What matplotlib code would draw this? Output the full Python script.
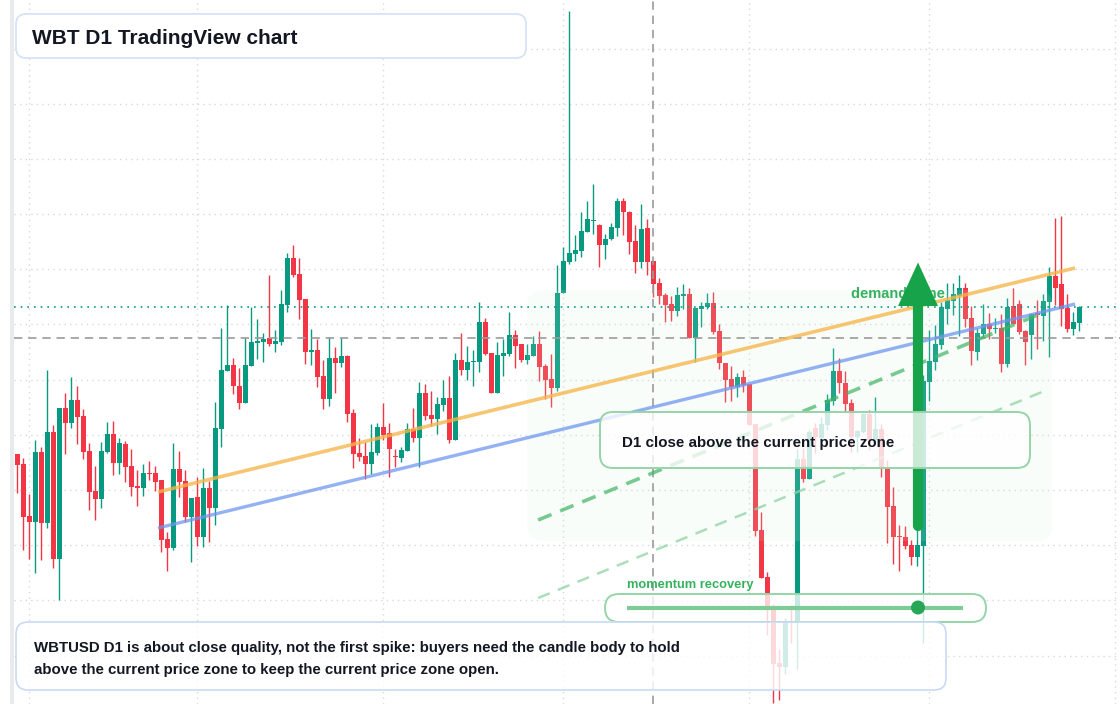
import numpy as np
import matplotlib
matplotlib.use("Agg")
import matplotlib.pyplot as plt
from matplotlib.patches import FancyBboxPatch, Rectangle, Circle, Polygon
from matplotlib.lines import Line2D
from matplotlib.transforms import IdentityTransform

plt.rcParams['font.family'] = ['Liberation Sans', 'DejaVu Sans']

# ---------------- data (daily OHLC, WBTUSD) ----------------
opens = [44.6, 43.6, 38.4, 37.8, 44.8, 37.7, 46.8, 34.1, 49.2, 47.7,
         50.0, 48.4, 44.9, 40.9, 40.1, 44.8, 46.6, 43.7, 45.6, 43.4,
         41.4, 41.2, 42.7, 42.7, 42.0, 36.1, 35.2, 43.1, 41.9, 38.3,
         40.3, 36.3, 41.2, 39.2, 47.1, 52.9, 53.5, 51.4, 49.7, 53.4,
         55.7, 55.8, 56.2, 55.6, 55.8, 59.5, 64.2, 62.6, 60.1, 54.8,
         55.0, 52.4, 50.1, 54.2, 53.7, 54.4, 48.7, 44.7, 44.4, 43.6,
         44.7, 47.3, 46.7, 44.4, 44.2, 44.9, 47.1, 46.2, 50.7, 48.5,
         48.1, 49.5, 50.2, 46.0, 54.0, 53.0, 53.8, 53.8, 57.8, 54.7,
         50.7, 54.4, 54.6, 56.5, 55.6, 54.0, 54.4, 55.6, 53.4, 52.1,
         51.2, 60.7, 63.8, 64.6, 64.9, 66.8, 67.9, 67.5, 65.5, 66.1,
         67.2, 69.9, 68.8, 65.9, 63.8, 67.2, 63.9, 61.7, 60.5, 59.6,
         58.9, 60.4, 60.6, 56.2, 59.1, 59.3, 59.7, 56.9, 53.7, 52.1,
         51.3, 52.3, 51.6, 47.6, 37.0, 32.3, 29.1, 23.7, 23.3, 27.8,
         27.7, 44.1, 42.1, 47.2, 46.2, 47.5, 49.9, 52.9, 51.7, 49.7,
         46.3, 46.8, 48.6, 46.0, 47.1, 43.3, 39.4, 36.4, 36.3, 35.5,
         34.3, 35.4, 51.8, 53.8, 55.5, 59.1, 59.9, 60.4, 61.2, 58.2,
         54.8, 56.6, 57.6, 57.1, 57.2, 53.6, 59.4, 59.6, 56.9, 56.5,
         58.7, 58.4, 59.8, 62.4, 61.6, 59.2, 57.1, 57.7]
highs = [44.6, 44.2, 40.6, 46.0, 45.3, 53.0, 47.5, 49.2, 50.7, 52.3,
         51.4, 49.1, 45.7, 43.4, 45.8, 47.8, 47.9, 46.2, 45.9, 45.1,
         43.0, 43.6, 43.9, 43.4, 42.0, 36.8, 45.7, 44.9, 43.0, 40.2,
         42.3, 43.2, 41.9, 49.8, 57.2, 59.5, 54.2, 53.2, 56.2, 59.3,
         58.1, 56.7, 62.5, 57.0, 61.0, 64.7, 65.5, 64.2, 60.1, 57.1,
         56.1, 54.0, 56.3, 55.3, 56.2, 54.5, 49.1, 46.2, 45.8, 47.6,
         47.7, 49.7, 47.7, 45.1, 45.3, 47.7, 49.2, 51.8, 51.6, 50.9,
         50.3, 52.0, 52.4, 54.7, 56.7, 55.4, 55.0, 59.8, 58.2, 54.7,
         55.8, 56.1, 58.8, 57.0, 55.6, 55.6, 56.4, 56.9, 53.6, 54.6,
         63.5, 65.3, 88.9, 66.5, 68.8, 69.9, 71.6, 67.6, 66.6, 67.7,
         70.2, 70.2, 68.9, 67.5, 69.6, 68.1, 63.9, 62.2, 60.7, 60.4,
         61.3, 61.6, 61.2, 59.2, 59.8, 60.7, 60.8, 57.6, 53.7, 53.4,
         52.7, 53.0, 51.6, 47.6, 38.8, 32.8, 29.6, 25.1, 28.2, 29.5,
         45.1, 45.2, 47.0, 47.7, 48.3, 50.6, 55.2, 54.2, 52.9, 50.1,
         47.0, 48.7, 49.0, 50.3, 47.6, 44.0, 41.3, 37.5, 37.4, 36.0,
         37.2, 52.5, 57.0, 57.5, 59.8, 61.7, 61.7, 62.5, 61.7, 59.4,
         57.2, 59.6, 58.7, 58.2, 58.6, 60.2, 61.2, 60.0, 57.0, 58.7,
         60.0, 60.6, 63.3, 68.2, 68.4, 60.6, 58.8, 59.4]
lows = [40.7, 35.0, 34.1, 32.7, 34.0, 37.2, 33.2, 30.0, 44.6, 47.2,
        45.6, 44.1, 39.0, 38.0, 39.2, 44.7, 42.5, 42.6, 41.8, 40.4,
        39.4, 40.4, 42.0, 40.9, 34.8, 32.9, 35.0, 40.3, 37.8, 33.8,
        35.4, 35.3, 35.8, 37.5, 45.3, 52.9, 50.6, 49.1, 49.7, 53.4,
        54.1, 53.8, 55.4, 54.8, 55.5, 58.8, 62.3, 58.1, 53.6, 53.5,
        51.3, 49.1, 49.4, 50.7, 53.3, 47.8, 43.2, 43.9, 42.1, 42.6,
        44.5, 46.0, 42.3, 43.3, 43.8, 44.9, 45.8, 43.3, 48.0, 47.4,
        46.6, 48.9, 45.7, 46.0, 52.5, 52.0, 51.4, 52.8, 54.5, 50.7,
        50.7, 52.4, 54.4, 53.2, 53.8, 53.6, 54.4, 51.9, 50.1, 49.3,
        50.9, 60.7, 63.6, 63.9, 64.3, 66.8, 66.6, 63.3, 64.1, 66.0,
        66.4, 66.5, 64.6, 62.7, 63.2, 62.5, 60.3, 59.6, 57.8, 57.9,
        58.4, 59.1, 56.2, 53.8, 57.3, 59.1, 56.6, 53.1, 49.8, 49.9,
        50.3, 50.8, 47.5, 36.4, 32.2, 26.5, 19.7, 20.0, 22.6, 25.7,
        23.1, 41.8, 42.1, 44.7, 46.0, 47.0, 49.5, 50.7, 48.8, 44.8,
        44.8, 46.7, 45.0, 46.0, 42.3, 35.7, 33.6, 32.9, 35.1, 33.5,
        33.4, 25.7, 49.9, 53.0, 55.1, 57.6, 58.5, 56.4, 57.3, 53.5,
        54.0, 56.2, 56.1, 56.7, 52.8, 53.3, 57.6, 56.6, 53.5, 54.1,
        55.1, 55.9, 54.3, 59.5, 57.4, 56.8, 56.5, 56.9]
closes = [43.5, 38.3, 37.8, 44.8, 37.7, 46.8, 34.1, 49.2, 47.7, 50.0,
          48.3, 44.8, 40.8, 40.1, 44.9, 46.6, 43.7, 45.7, 43.3, 41.3,
          41.2, 42.7, 42.6, 41.8, 36.0, 35.2, 43.1, 41.8, 38.3, 40.2,
          36.3, 41.2, 39.2, 47.2, 53.0, 53.5, 51.4, 49.7, 53.5, 55.8,
          55.9, 56.1, 55.6, 55.9, 59.6, 64.2, 62.5, 60.0, 54.8, 55.0,
          52.3, 50.1, 54.2, 53.7, 54.4, 48.6, 44.6, 44.3, 43.6, 44.8,
          47.3, 46.5, 45.1, 44.3, 45.0, 47.1, 46.2, 50.7, 48.4, 48.1,
          49.6, 50.2, 46.0, 54.0, 53.0, 53.8, 53.9, 57.8, 54.6, 50.7,
          54.5, 54.7, 56.5, 55.4, 54.0, 54.5, 55.6, 53.3, 52.0, 51.2,
          60.7, 63.9, 64.7, 65.0, 66.9, 68.1, 68.0, 65.5, 66.1, 67.3,
          69.9, 68.8, 65.8, 63.8, 67.1, 63.8, 61.6, 60.4, 59.5, 58.9,
          60.5, 60.6, 56.2, 59.2, 59.4, 59.7, 56.8, 53.7, 52.0, 51.3,
          52.3, 51.5, 47.5, 36.9, 32.2, 29.1, 23.6, 23.3, 27.8, 27.7,
          44.1, 42.1, 46.8, 46.3, 47.6, 50.0, 52.9, 51.7, 49.6, 46.3,
          46.9, 48.6, 46.0, 47.1, 43.3, 39.3, 36.3, 36.3, 35.4, 34.3,
          35.5, 51.9, 53.9, 55.6, 59.3, 60.0, 60.6, 61.2, 58.1, 54.9,
          56.7, 57.6, 57.1, 57.2, 53.6, 59.3, 57.6, 56.8, 55.8, 58.6,
          58.5, 59.9, 62.4, 61.2, 59.1, 57.1, 57.8, 59.3]

# drawing annotations (bar index, price)
orange_line_x = [23.45, 176.3]
orange_line_y = [40.8, 63.2]
blue_line_x = [23.45, 176.3]
blue_line_y = [37.2, 59.6]
green_dash_x = [86.8, 171.3]
green_dash_y = [38.0, 58.8]
light_dash_x = [86.8, 171.6]
light_dash_y = [30.2, 51.0]
zone_x = [84.95, 172.5]
zone_y = [35.9, 61.0]
current_price = 56.2
last_price = 59.3
cursor_bar = 105.95
arrow_bar = 150.12
arrow_from, arrow_to = 37.4, 63.75
grid_bars = [2, 30, 61, 91, 122, 152, 183]

title_text = "WBT D1 TradingView chart"
zone_label = "demand zone"
box_text = "D1 close above the current price zone"
momentum_label = "momentum recovery"
note_lines = ["WBTUSD D1 is about close quality, not the first spike: buyers need the candle body to hold",
              "above the current price zone to keep the current price zone open."]

# ---------------- figure ----------------
W, H = 1120, 704
STEP = 6.0
fig = plt.figure(figsize=(W / 100, H / 100), dpi=100)
ax = fig.add_axes([14 / W, 0, (W - 14) / W, 1])
x0 = -(17.3 - 14) / STEP
ax.set_xlim(x0, x0 + (W - 14) / STEP)
ax.set_ylim(90 - H / 10, 90)
ax.axis('off')

ID = IdentityTransform()

def Y(y):
    return H - y

# left strip
fig.add_artist(Rectangle((10, 0), 4, H, transform=ID, color='#e9eaed', lw=0, zorder=-1))

# grid
grid_kw = dict(color='#d6d9de', lw=1.0, linestyle=(0, (1, 3)), zorder=0.5)
for k in range(13):
    ax.axhline(85.15 - 5.52 * k, **grid_kw)
for b in grid_bars:
    ax.axvline(b, **grid_kw)

# candles
o = np.array(opens); h = np.array(highs); l = np.array(lows); c = np.array(closes)
idx = np.arange(len(o))
up = c >= o
GREEN = '#089981'
RED = '#f23645'
cols = np.where(up, GREEN, RED)
ax.vlines(idx, l, h, colors=cols, lw=1.0, zorder=3)
body_lo = np.minimum(o, c)
body_h = np.maximum(np.abs(c - o), 0.12)
ax.bar(idx, body_h, bottom=body_lo, width=0.76, color=cols, lw=0, zorder=3.1)

# demand zone shading
zx0, zy0 = ax.transData.transform((zone_x[0], zone_y[0]))
zx1, zy1 = ax.transData.transform((zone_x[1], zone_y[1]))
ax.add_patch(FancyBboxPatch((zx0, zy0), zx1 - zx0, zy1 - zy0,
                            boxstyle="round,pad=0,rounding_size=16", transform=ID,
                            fc=(0.82, 0.95, 0.86, 0.13), ec='none', zorder=3.5, clip_on=False))

# reference lines
ax.axhline(last_price, color=GREEN, lw=1.2, linestyle=(0, (1, 3)), zorder=3.6)
ax.axhline(current_price, color='#9b9b9b', lw=1.2, linestyle=(0, (5, 3.5)), zorder=3.6)
ax.axvline(cursor_bar, color='#9b9b9b', lw=1.2, linestyle=(0, (5, 3.5)), zorder=3.6)

# trend lines
ax.plot(orange_line_x, orange_line_y, color='#f6b64b', alpha=0.78, lw=2.6, solid_capstyle='butt', zorder=4)
ax.plot(blue_line_x, blue_line_y, color='#6f97f0', alpha=0.75, lw=2.4, solid_capstyle='butt', zorder=4)
ax.plot(green_dash_x, green_dash_y, color='#40b464', alpha=0.7, lw=2.6, linestyle=(0, (4, 2.6)), zorder=4)
ax.plot(light_dash_x, light_dash_y, color='#8fd3a4', alpha=0.75, lw=1.8, linestyle=(0, (5, 3.5)), zorder=4)

# demand zone label (under the arrow)
ax.text(139.0, 60.15, zone_label, fontsize=10.5, fontweight='bold', color='#35b25d',
        va='baseline', ha='left', zorder=4.5)

# big arrow
ARROW = '#17a349'
ax.plot([arrow_bar, arrow_bar], [arrow_from, 59.6], color=ARROW, lw=7.3,
        solid_capstyle='round', zorder=5)
hx = 20 / STEP
ax.add_patch(Polygon([(arrow_bar, arrow_to), (arrow_bar - hx, 59.4), (arrow_bar + hx, 59.4)],
                     closed=True, color=ARROW, lw=0, zorder=5.1))

# ---------------- overlay boxes (screen space) ----------------
def box(x, y, w, hgt, r, ec, fc, lw=1.2, z=10):
    fig.add_artist(FancyBboxPatch((x, Y(y + hgt)), w, hgt, boxstyle=f"round,pad=0,rounding_size={r}",
                                  transform=ID, fc=fc, ec=ec, lw=lw, zorder=z))

DARK = '#131722'
# title
box(16, 14, 510, 44, 10, '#d3e2f6', 'white', lw=1.2)
fig.text(32, Y(43.5), title_text, transform=ID, fontsize=15, fontweight='bold', color=DARK,
         va='baseline', ha='left', zorder=11)

# D1 box
box(600, 412, 430, 56, 13, '#96d4a9', (1, 1, 1, 0.78), lw=1.4)
fig.text(622, Y(447.3), box_text, transform=ID, fontsize=10.9, fontweight='bold', color=DARK,
         va='baseline', ha='left', zorder=11)

# momentum
fig.text(627, Y(588), momentum_label, transform=ID, fontsize=9.3, fontweight='bold', color='#35b25d',
         va='baseline', ha='left', zorder=11)
box(605, 594, 381, 28, 14, '#96d4a9', (1, 1, 1, 0.78), lw=1.4)
fig.add_artist(Line2D([627, 963], [Y(607.5), Y(607.5)], transform=ID, color='#7fcb96', lw=3.0,
                      solid_capstyle='butt', zorder=11))
fig.add_artist(Circle((918, Y(607.5)), 7, transform=ID, color='#27a655', lw=0, zorder=12))

# bottom note
box(16, 622, 930, 68, 12, '#c8daf3', (1, 1, 1, 0.82), lw=1.2)
fig.text(34, Y(652.3), note_lines[0], transform=ID, fontsize=10.85, fontweight='bold', color=DARK,
         va='baseline', ha='left', zorder=11)
fig.text(34, Y(674), note_lines[1], transform=ID, fontsize=10.85, fontweight='bold', color=DARK,
         va='baseline', ha='left', zorder=11)

fig.savefig('out.png', dpi=100, facecolor='white')
